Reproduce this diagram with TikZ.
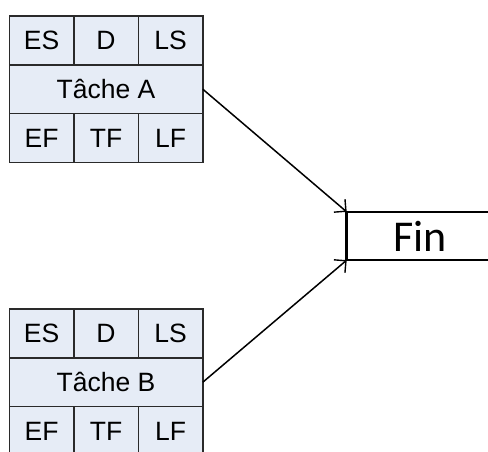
\documentclass[tikz,border=0pt]{standalone}
\usepackage{fontspec}
\setmainfont{Liberation Sans}
\newfontfamily\finfont{Carlito}
\usetikzlibrary{arrows.meta,positioning}
\definecolor{CellBlue}{HTML}{E6ECF6}
\definecolor{CellLine}{HTML}{2A2A2A}

\begin{document}
\begin{tikzpicture}[x=1pt, y=-1pt,
  cell/.style={draw=CellLine, fill=CellBlue, line width=1.4pt,
               minimum width=64.5pt, minimum height=48.8pt,
               inner sep=0pt, outer sep=0pt, font=\fontsize{26.5}{30}\selectfont},
  wide/.style={cell, minimum width=193.5pt},
  finbox/.style={draw, line width=1.8pt, minimum width=147pt, minimum height=48.3pt,
                 inner sep=0pt, outer sep=0pt, font=\finfont\fontsize{44}{50}\selectfont},
  lien/.style={line width=1.5pt,
               -{Straight Barb[length=8.5pt, width=17pt, line width=1.4pt]}},
  node distance=0pt
]
  \useasboundingbox (0,0) rectangle (488,451);

  % Tache A
  \node[cell] (esA) at (41.55,40.4) {ES};
  \node[cell, right=of esA] (dA) {D};
  \node[cell, right=of dA] (lsA) {LS};
  \node[wide, below=of dA] (tA) {Tâche A};
  \node[cell, below=of tA] (tfA) {TF};
  \node[cell, left=of tfA] (efA) {EF};
  \node[cell, right=of tfA] (lfA) {LF};

  % Tache B
  \node[cell] (esB) at (41.55,333.4) {ES};
  \node[cell, right=of esB] (dB) {D};
  \node[cell, right=of dB] (lsB) {LS};
  \node[wide, below=of dB] (tB) {Tâche B};
  \node[cell, below=of tB] (tfB) {TF};
  \node[cell, left=of tfB] (efB) {EF};
  \node[cell, right=of tfB] (lfB) {LF};

  % Fin (coupe par le bord droit)
  \node[finbox, anchor=west] (fin) at (346.7,236) {Fin};
  \draw[line width=2.6pt] (fin.north west) -- (fin.south west);

  \draw[lien] (tA.east) -- (fin.north west);
  \draw[lien] (tB.east) -- (fin.south west);
\end{tikzpicture}
\end{document}
